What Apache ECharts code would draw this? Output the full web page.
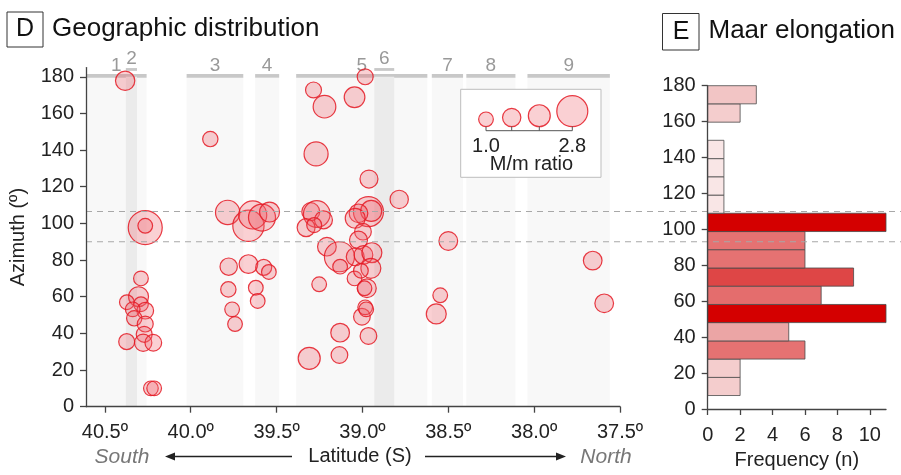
<!DOCTYPE html>
<html><head><meta charset="utf-8">
<script src="https://cdn.jsdelivr.net/npm/echarts@6/dist/echarts.min.js"></script>
<style>html,body{margin:0;padding:0;background:#fff}#c{width:901px;height:475px}</style>
</head><body><div id="c"></div>
<script>
// ---- data ----
const latitude = [
  40.382,40.265,40.265,40.290,40.304,40.372,40.290,40.265,40.338,40.329,40.265,40.271,40.373,40.277,40.218,40.232,40.213,
  39.886,39.785,39.664,39.639,39.585,39.541,39.779,39.664,39.575,39.545,39.781,39.621,39.610,39.759,39.742,
  39.285,39.221,39.270,39.046,38.984,38.962,38.786,39.301,39.266,39.227,39.328,39.281,38.965,38.949,39.023,39.042,38.997,39.023,
  39.207,39.134,39.130,39.042,39.046,39.252,39.130,39.134,39.310,39.003,38.994,38.945,38.951,39.009,38.974,38.988,38.984,38.978,38.965,
  38.500,38.547,38.570,37.659,37.592
];
const azimuth = [
  177.8,97.7,98.7,70.0,60.0,57.0,55.9,52.4,53.1,48.2,45.1,39.5,35.5,34.9,34.9,10.0,10.0,
  146.0,106.0,98.7,104.6,103.2,106.2,76.4,77.8,76.0,73.5,64.0,64.9,57.7,53.1,45.1,
  172.8,163.7,137.9,168.8,180.0,124.2,113.1,106.4,105.1,101.9,97.7,99.1,106.4,106.8,105.5,102.8,95.5,90.9,
  87.3,81.8,76.4,81.8,70.0,66.8,40.4,28.2,26.4,49.1,82.8,84.0,75.5,74.2,64.6,64.6,54.2,53.1,38.6,
  90.4,60.8,50.6,79.7,56.4
];
const ratio = [
  1.51,3.13,1.0,1.0,1.58,1.0,1.0,1.22,1.0,1.07,1.14,1.14,1.14,1.29,1.22,1.0,1.0,
  1.07,2.06,2.83,2.47,2.36,1.58,1.29,1.44,1.14,1.0,1.07,1.0,1.0,1.0,1.0,
  1.14,1.88,2.03,1.66,1.14,1.36,1.40,1.36,2.32,1.36,1.36,1.03,2.69,1.70,1.44,1.58,1.22,1.36,
  1.44,2.69,1.0,1.36,1.0,1.0,1.44,1.22,1.81,1.22,1.44,1.58,1.58,1.0,1.44,1.0,1.0,1.0,1.22,
  1.44,1.0,1.58,1.44,1.44
];
const zoneNames = ['1','2','3','4','5','6','7','8','9'];
const zoneSouth = [40.61,40.378,40.024,39.625,39.386,38.931,38.596,38.395,38.039];
const zoneNorth = [40.257,40.313,39.694,39.485,38.622,38.815,38.414,38.109,37.559];
const zoneLevel = [0,1,0,0,0,1,0,0,0];
const binLow  = [7.5,17.6,27.8,37.9,48.1,58.2,68.4,78.5,88.7,98.8,109.0,119.1,129.3,139.4,149.6,159.7,169.9];
const binHigh = [17.6,27.8,37.9,48.1,58.2,68.4,78.5,88.7,98.8,109.0,119.1,129.3,139.4,149.6,159.7,169.9,180];
const binCount = [2,2,6,5,11,7,9,6,6,11,1,1,1,1,0,2,3];
const latTicks = [40.5,40.0,39.5,39.0,38.5,38.0,37.5];
const azTicks = [0,20,40,60,80,100,120,140,160,180];
const freqTicks = [0,2,4,6,8,10];
const dashedAz = [106.5,90];
const legendRatios = [1.0,1.4,1.8,2.8];

// ---- styles ----
const FONT = 'Liberation Sans, Arial, sans-serif';
const freqPalette = {1:'#f9e6e6',2:'#f4cdcd',3:'#f2c5c5',5:'#eba5a5',6:'#e57272',7:'#e46d6d',9:'#de4646',11:'#d40000'};
function sizeOf(r){ return 5.64 + 9.06*r; }
const bubbleFill = 'rgba(240,100,110,0.3)';
const bubbleStroke = 'rgba(228,25,35,0.85)';

const chart = echarts.init(document.getElementById('c'), null, {renderer:'canvas'});

const axisLineStyle = {color:'#444', width:1.3};
const labelStyle = {fontSize:20, color:'#222', fontFamily:FONT};

function renderZone(params, api){
  const i = params.dataIndex;
  const s = api.value(0), n = api.value(1), lvl = api.value(2);
  const pTop = api.coord([s, 180]);
  const pBot = api.coord([n, 0]);
  const x0 = Math.min(pTop[0], pBot[0]), x1 = Math.max(pTop[0], pBot[0]);
  const yTop = pTop[1], yBot = pBot[1];
  return {type:'group', children:[
    {type:'rect', shape:{x:x0, y:yTop, width:x1-x0, height:yBot-yTop}, style:{fill: lvl ? '#ebebeb' : '#f8f8f8'}},
    {type:'rect', shape:{x:x0, y:yTop-2.7-lvl*6, width:x1-x0, height: lvl ? 2.8 : 3.6}, style:{fill:'#c8c8c8'}},
    {type:'text', style:{text:zoneNames[i], x:(x0+x1)/2, y:yTop-10.5-lvl*7.5, align:'center', verticalAlign:'middle', fontSize:19, fill:'#999', fontFamily:FONT}}
  ]};
}
function renderBin(params, api){
  const lo = api.value(0), hi = api.value(1), c = api.value(2);
  if (!c) return null;
  const p0 = api.coord([0, hi]);
  const p1 = api.coord([c, lo]);
  return {type:'rect', shape:{x:p0[0], y:p0[1], width:p1[0]-p0[0], height:p1[1]-p0[1]},
    style:{fill:freqPalette[c] || '#e57272', stroke:'#4a4a4a', lineWidth:0.8}};
}
function renderDash(params, api){
  const v = api.value(0);
  const a = api.coord([0, v]), b = api.coord([1, v]);
  return {type:'line', shape:{x1:a[0], y1:a[1], x2:b[0], y2:b[1]}, style:{stroke:'#a8a8a8', lineWidth:1.2, lineDash:[6,5]}};
}

// legend graphic (flattened, drawn on top layer)
const legX = [486, 511.7, 539.3, 572.3];
const legBase = 126.7;
const legendEls = [
  {type:'rect', shape:{x:460.7, y:89.3, width:140.3, height:88}, style:{fill:'#fff', stroke:'#bdbdbd', lineWidth:1}},
  {type:'line', shape:{x1:legX[0], y1:130.7, x2:legX[3], y2:130.7}, style:{stroke:'#555', lineWidth:1}}
];
legendRatios.forEach((r,i)=>{
  const rad = sizeOf(r)/2;
  legendEls.push({type:'circle', shape:{cx:legX[i], cy:legBase - rad, r:rad}, style:{fill:bubbleFill, stroke:bubbleStroke, lineWidth:1.2}});
  legendEls.push({type:'line', shape:{x1:legX[i], y1:126.5, x2:legX[i], y2:130.7}, style:{stroke:'#555', lineWidth:1}});
});
legendEls.push({type:'text', style:{text:legendRatios[0].toFixed(1), x:legX[0], y:146, align:'center', verticalAlign:'middle', fontSize:20, fill:'#222', fontFamily:FONT}});
legendEls.push({type:'text', style:{text:legendRatios[3].toFixed(1), x:legX[3], y:146, align:'center', verticalAlign:'middle', fontSize:20, fill:'#222', fontFamily:FONT}});
legendEls.push({type:'text', style:{text:'M/m ratio', x:531.5, y:164.5, align:'center', verticalAlign:'middle', fontSize:20, fill:'#222', fontFamily:FONT}});
legendEls.forEach((el,k)=>{ el.zlevel = 1; el.z = 100 + k; });

const option = {
  animation:false,
  backgroundColor:'#fff',
  grid:[
    {left:86, right:281, top:67.6, bottom:68.3},
    {left:707.7, right:15, top:85.7, bottom:60},
    {left:86, right:0, top:67.6, bottom:68.3}
  ],
  xAxis:[
    {gridIndex:0, type:'value', min:37.5, max:40.61, inverse:true, z:20,
     axisLine:{show:true, onZero:false, lineStyle:axisLineStyle},
     axisTick:{show:true, customValues:latTicks, length:6, lineStyle:axisLineStyle},
     axisLabel:Object.assign({customValues:latTicks, margin:16, formatter:v=>v.toFixed(1)+'º'}, labelStyle),
     splitLine:{show:false}},
    {gridIndex:1, type:'value', min:0, max:11, z:20,
     axisLine:{show:true, onZero:false, lineStyle:axisLineStyle},
     axisTick:{show:true, customValues:freqTicks, length:6, lineStyle:axisLineStyle},
     axisLabel:Object.assign({customValues:freqTicks, margin:16}, labelStyle),
     splitLine:{show:false},
     name:'Frequency (n)', nameLocation:'middle', nameGap:41,
     nameTextStyle:{fontSize:20, color:'#222', fontFamily:FONT}},
    {gridIndex:2, type:'value', min:0, max:1, show:false}
  ],
  yAxis:[
    {gridIndex:0, type:'value', min:0, max:185, z:20,
     axisLine:{show:true, onZero:false, lineStyle:axisLineStyle},
     axisTick:{show:true, customValues:azTicks, length:6, lineStyle:axisLineStyle},
     axisLabel:Object.assign({customValues:azTicks, margin:12}, labelStyle),
     splitLine:{show:false},
     name:'Azimuth (º)', nameLocation:'middle', nameGap:58,
     nameTextStyle:{fontSize:20, color:'#222', fontFamily:FONT}},
    {gridIndex:1, type:'value', min:0, max:180, z:20,
     axisLine:{show:true, onZero:false, lineStyle:axisLineStyle},
     axisTick:{show:true, customValues:azTicks, length:6, lineStyle:axisLineStyle},
     axisLabel:Object.assign({customValues:azTicks, margin:12}, labelStyle),
     splitLine:{show:false}},
    {gridIndex:2, type:'value', min:0, max:185, show:false}
  ],
  series:[
    {type:'custom', xAxisIndex:0, yAxisIndex:0, z:1, silent:true,
     data: zoneNames.map((n,i)=>[zoneSouth[i], zoneNorth[i], zoneLevel[i]]),
     renderItem: renderZone},
    {type:'scatter', xAxisIndex:0, yAxisIndex:0, z:3, silent:true,
     data: latitude.map((v,i)=>[v, azimuth[i], ratio[i]]),
     symbolSize: v=>sizeOf(v[2]),
     itemStyle:{color:bubbleFill, borderColor:bubbleStroke, borderWidth:1.2, opacity:1}},
    {type:'custom', xAxisIndex:1, yAxisIndex:1, z:3, silent:true,
     data: binLow.map((v,i)=>[v, binHigh[i], binCount[i]]),
     renderItem: renderBin},
    {type:'custom', xAxisIndex:2, yAxisIndex:2, z:10, silent:true,
     data: dashedAz.map(v=>[v]),
     renderItem: renderDash}
  ],
  graphic:[
    {type:'rect', z:100, shape:{x:7, y:12, width:36, height:35}, style:{fill:'#fff', stroke:'#333', lineWidth:1}},
    {type:'text', z:101, style:{text:'D', x:25, y:29.5, align:'center', verticalAlign:'middle', fontSize:25, fill:'#111', fontFamily:FONT}},
    {type:'text', z:101, style:{text:'Geographic distribution', x:52, y:29, align:'left', verticalAlign:'middle', fontSize:26, fill:'#111', fontFamily:FONT}},
    {type:'rect', z:100, shape:{x:662.5, y:13.5, width:36.5, height:36.5}, style:{fill:'#fff', stroke:'#333', lineWidth:1}},
    {type:'text', z:101, style:{text:'E', x:681, y:32, align:'center', verticalAlign:'middle', fontSize:25, fill:'#111', fontFamily:FONT}},
    {type:'text', z:101, style:{text:'Maar elongation', x:708.5, y:30.5, align:'left', verticalAlign:'middle', fontSize:26, fill:'#111', fontFamily:FONT}},
    {type:'text', z:101, style:{text:'South', x:122, y:457, align:'center', verticalAlign:'middle', fontSize:21, fontStyle:'italic', fill:'#777', fontFamily:FONT}},
    {type:'text', z:101, style:{text:'North', x:606, y:457, align:'center', verticalAlign:'middle', fontSize:21, fontStyle:'italic', fill:'#777', fontFamily:FONT}},
    {type:'text', z:101, style:{text:'Latitude (S)', x:360, y:456, align:'center', verticalAlign:'middle', fontSize:20, fill:'#222', fontFamily:FONT}},
    {type:'line', z:101, shape:{x1:292, y1:456.5, x2:172, y2:456.5}, style:{stroke:'#222', lineWidth:1.3}},
    {type:'polygon', z:101, shape:{points:[[165,456.5],[175,452.5],[175,460.5]]}, style:{fill:'#222'}},
    {type:'line', z:101, shape:{x1:425, y1:456.5, x2:559, y2:456.5}, style:{stroke:'#222', lineWidth:1.3}},
    {type:'polygon', z:101, shape:{points:[[566,456.5],[556,452.5],[556,460.5]]}, style:{fill:'#222'}}
  ].concat(legendEls)
};
chart.setOption(option);
</script>
</body></html>
